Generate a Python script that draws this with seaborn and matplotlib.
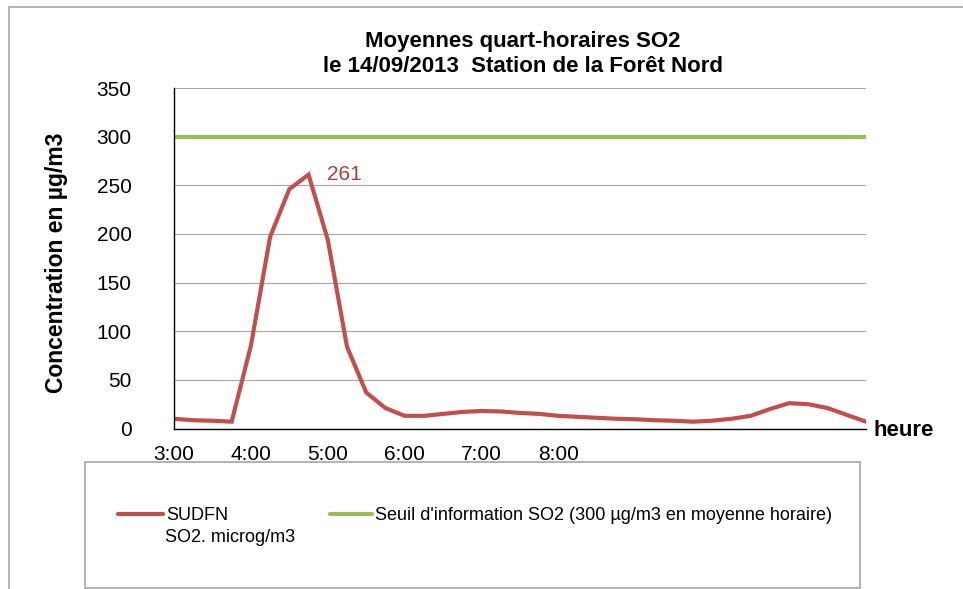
import matplotlib
matplotlib.use("Agg")
import matplotlib.pyplot as plt
from matplotlib.patches import Rectangle
import seaborn as sns
import pandas as pd

# ======================
# DATA
# ======================
heures = ["3:00", "3:15", "3:30", "3:45", "4:00", "4:15", "4:30", "4:45",
          "5:00", "5:15", "5:30", "5:45", "6:00", "6:15", "6:30", "6:45",
          "7:00", "7:15", "7:30", "7:45", "8:00", "8:15", "8:30", "8:45",
          "9:00", "9:15", "9:30", "9:45", "10:00", "10:15", "10:30", "10:45",
          "11:00", "11:15", "11:30", "11:45", "12:00"]
so2 = [10, 8.5, 8, 7, 85, 197, 246, 261, 194, 84, 37, 21,
       13, 13, 15, 17, 18, 17.5, 16, 15, 13, 12, 11, 10,
       9.5, 8.5, 8, 7, 8, 10, 13, 20, 26, 25, 21, 14, 7]
seuil = [300] * len(heures)
shown_labels = ["3:00", "4:00", "5:00", "6:00", "7:00", "8:00"]
y_ticks = [0, 50, 100, 150, 200, 250, 300, 350]

title = "Moyennes quart-horaires SO2\nle 14/09/2013  Station de la Forêt Nord"
serie_label = "SUDFN"
serie_label2 = "SO2. microg/m3"
seuil_label = "Seuil d'information SO2 (300 µg/m3 en moyenne horaire)"

RED = "#c0504d"
GREEN = "#9bbb59"
GRID = "#a6a6a6"

df = pd.DataFrame({"pos": range(len(heures)), "heure": heures,
                   "so2": so2, "seuil": seuil})

# ======================
# FIGURE
# ======================
sns.set_style("white")
plt.rcParams["font.family"] = ["Liberation Sans", "DejaVu Sans"]
plt.rcParams["text.color"] = "black"
plt.rcParams["axes.labelcolor"] = "black"

W, H = 963, 589
fig = plt.figure(figsize=(W / 100, H / 100), dpi=100)

def fx(px):
    return px / W

def fy(py):
    return 1 - py / H

# chart area border and legend box
fig.add_artist(Rectangle((fx(8.5), -0.1), 1.2, fy(7) + 0.1, transform=fig.transFigure,
                         fill=False, edgecolor=GRID, lw=1.2))
fig.add_artist(Rectangle((fx(85), fy(588)), fx(860) - fx(85), fy(462) - fy(588),
                         transform=fig.transFigure, fill=False, edgecolor=GRID, lw=1.2))

ax = fig.add_axes([fx(174), fy(428.5), fx(866) - fx(174), fy(88) - fy(428.5)])

sns.lineplot(data=df, x="pos", y="seuil", ax=ax, color=GREEN, lw=3, legend=False)
sns.lineplot(data=df, x="pos", y="so2", ax=ax, color=RED, lw=3, legend=False)
for ln in ax.lines:
    ln.set_solid_capstyle("round")
    ln.set_solid_joinstyle("miter")

ax.set_xlim(0, len(heures) - 1)
ax.set_ylim(0, 350)
ax.set_yticks(y_ticks)
ax.set_yticklabels([str(v) for v in y_ticks])
ax.set_xticks(df["pos"])
ax.set_xticklabels([h if h in shown_labels else "" for h in heures])

ax.grid(axis="y", color=GRID, lw=0.8)
ax.grid(axis="x", visible=False)
ax.set_axisbelow(True)
for side in ["top", "right"]:
    ax.spines[side].set_visible(False)
for side in ["left", "bottom"]:
    ax.spines[side].set_color("black")
    ax.spines[side].set_linewidth(1.0)

ax.tick_params(axis="y", length=4.5, color="#808080", width=0.8, pad=26,
               labelsize=15, labelcolor="black")
ax.tick_params(axis="x", length=4, color="#a0a0a0", width=0.8, pad=8,
               labelsize=15, labelcolor="black")

ax.set_xlabel("")
ax.set_ylabel("Concentration en µg/m3", fontsize=16.5, fontweight="bold", va="center")
ax.yaxis.set_label_coords((57 - 174) / 692, 0.486)

# peak label
i_max = so2.index(max(so2))
ax.annotate(f"{max(so2):.0f}", xy=(i_max, max(so2)), xytext=(13, 0),
            textcoords="offset points", va="center", ha="left",
            fontsize=15, color="#a5403c")

fig.text(fx(523), fy(54), title, ha="center", va="center", fontsize=16,
         fontweight="bold", multialignment="center", linespacing=1.2)
fig.text(fx(873), fy(430), "heure", ha="left", va="center", fontsize=16,
         fontweight="bold")

# ======================
# LEGEND
# ======================
h_seuil, h_so2 = ax.lines[0], ax.lines[1]
fig.legend(handles=[h_so2], labels=[serie_label], loc="center left",
           bbox_to_anchor=(fx(118), fy(516)), frameon=False, borderpad=0,
           borderaxespad=0, handlelength=2.5, handletextpad=0.15, fontsize=13,
           labelcolor="black")
fig.legend(handles=[h_seuil], labels=[seuil_label], loc="center left",
           bbox_to_anchor=(fx(330), fy(516)), frameon=False, borderpad=0,
           borderaxespad=0, handlelength=2.35, handletextpad=0.15, fontsize=13,
           labelcolor="black")
fig.text(fx(165), fy(537), serie_label2, ha="left", va="center", fontsize=13)

fig.savefig("out.png", dpi=100)
